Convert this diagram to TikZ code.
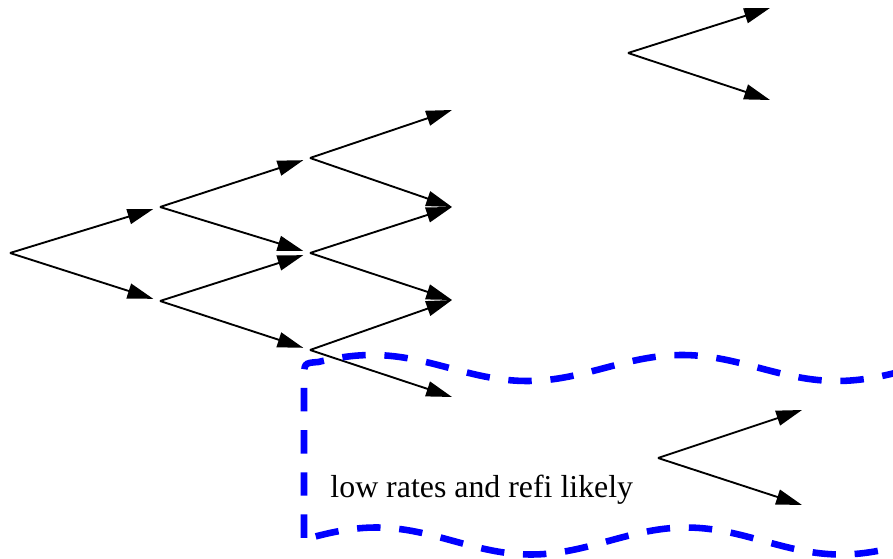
\documentclass[tikz,border=0pt]{standalone}
\usepackage{fontspec}
\setmainfont{Liberation Serif}
\usetikzlibrary{arrows.meta}

\begin{document}
\begin{tikzpicture}[x=0.015cm,y=-0.015cm,>={Triangle[length=11pt,width=6.5pt]},
 arr/.style={->,line width=.8pt},
 gap/.style={arr,shorten >=3pt},
 wave/.style={draw=blue,line width=2.8pt,dash pattern=on 10pt off 8pt}]
\useasboundingbox (0,0) rectangle (893,559);
\clip (0,0) rectangle (893,559);
% binomial tree
\coordinate (r) at (10,253);
\coordinate (a1) at (160,207); \coordinate (a2) at (160,301);
\coordinate (b1) at (310,158); \coordinate (b2) at (310,253); \coordinate (b3) at (310,350);
\coordinate (c1) at (452,110); \coordinate (c2) at (452,207);
\coordinate (c3) at (452,300); \coordinate (c4) at (452,397);
\draw[gap] (r)--(a1); \draw[gap] (r)--(a2);
\draw[gap] (a1)--(b1); \draw[gap] (a1)--(b2); \draw[gap] (a2)--(b2); \draw[gap] (a2)--(b3);
\draw[arr] (b1)--(c1); \draw[arr] (b1)--(c2); \draw[arr] (b2)--(c2); \draw[arr] (b2)--(c3);
\draw[arr] (b3)--(c3); \draw[arr] (b3)--(c4);
% single forks
\coordinate (t0) at (628,53); \coordinate (t1) at (770,8); \coordinate (t2) at (770,100);
\draw[arr] (t0)--(t1); \draw[arr] (t0)--(t2);
\coordinate (u0) at (658,458); \coordinate (u1) at (802,410); \coordinate (u2) at (802,505);
\draw[arr] (u0)--(u1); \draw[arr] (u0)--(u2);
% region
\draw[wave] plot[domain=905:318,samples=90,smooth] (\x,{368-13*cos(1.16129*(\x-372))})
 .. controls (304,363) .. (304,380) -- (304,543)
 -- plot[domain=312:905,samples=90,smooth] (\x,{541-13.5*cos(1.16129*(\x-376))});
\node[anchor=base west,inner sep=0pt,font=\fontsize{13.6}{16}\selectfont] (lbl) at (330,497) {low rates and refi likely};
\end{tikzpicture}
\end{document}
